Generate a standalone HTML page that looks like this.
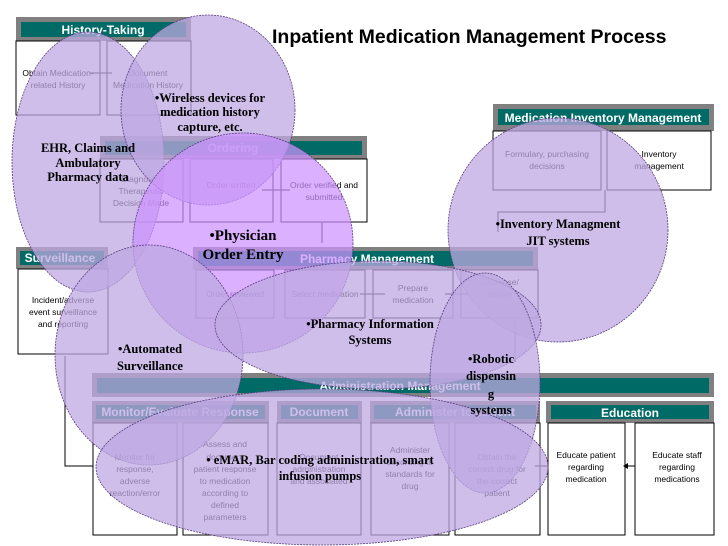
<!DOCTYPE html>
<html><head><meta charset="utf-8"><style>
html,body{margin:0;padding:0;background:#fff;}
svg{display:block;}
.h{font-family:"Liberation Sans",sans-serif;font-weight:bold;fill:#fff;font-size:12px;}
.t{font-family:"Liberation Sans",sans-serif;font-size:8.5px;fill:#000;}
.tb{font-family:"Liberation Sans",sans-serif;font-size:8.5px;fill:#000;}
.l{font-family:"Liberation Serif",serif;font-weight:bold;fill:#000;}
.bx{fill:#fff;stroke:#000;stroke-width:1;}
.el{fill:rgba(190,168,225,0.75);stroke:#5a3d80;stroke-width:0.8;stroke-dasharray:2,1;}
</style></head><body>
<svg width="728" height="546" viewBox="0 0 728 546" xmlns="http://www.w3.org/2000/svg">
<!-- History-Taking -->
<rect x="16" y="17" width="175" height="24" fill="#808080"/><rect x="21" y="22" width="165" height="15" fill="#006b66"/>
<text x="103" y="34" class="h" text-anchor="middle">History-Taking</text>
<rect x="16" y="41" width="84" height="74" class="bx"/><rect x="107" y="41" width="84" height="74" class="bx"/>
<text x="58" y="76" class="t" text-anchor="middle">Obtain Medication-</text><text x="58" y="88" class="t" text-anchor="middle">related History</text>
<text x="148" y="76" class="t" text-anchor="middle">Document</text><text x="148" y="88" class="t" text-anchor="middle">Medication History</text>
<line x1="90" y1="73" x2="112" y2="73" stroke="#000"/>
<!-- Title -->
<text x="272" y="43" font-family="Liberation Sans,sans-serif" font-weight="bold" font-size="19.5" fill="#000">Inpatient Medication Management Process</text>
<!-- Order -->
<rect x="100" y="136" width="267" height="23" fill="#808080"/><rect x="105" y="141" width="257" height="14" fill="#006b66"/>
<text x="233" y="152" class="h" text-anchor="middle">Ordering</text>
<rect x="100" y="159" width="83" height="63" class="bx"/><rect x="190" y="159" width="83" height="63" class="bx"/><rect x="281" y="159" width="86" height="63" class="bx"/>
<text x="141" y="182" class="t" text-anchor="middle">Diagnosis/</text><text x="141" y="194" class="t" text-anchor="middle">Therapeutic</text><text x="141" y="206" class="t" text-anchor="middle">Decision Made</text>
<text x="231" y="188" class="t" text-anchor="middle">Order written</text>
<text x="324" y="188" class="t" text-anchor="middle">Order verified and</text><text x="324" y="200" class="t" text-anchor="middle">submitted</text>
<line x1="262" y1="190" x2="290" y2="190" stroke="#000"/>
<line x1="322" y1="222" x2="322" y2="243" stroke="#000"/>
<!-- Inventory -->
<rect x="493" y="104" width="221" height="27" fill="#808080"/><rect x="498" y="109" width="211" height="16" fill="#006b66"/>
<text x="603" y="122" class="h" text-anchor="middle">Medication Inventory Management</text>
<rect x="493" y="131" width="108" height="59" class="bx"/><rect x="607" y="131" width="104" height="59" class="bx"/>
<text x="547" y="157" class="t" text-anchor="middle">Formulary, purchasing</text><text x="547" y="169" class="t" text-anchor="middle">decisions</text>
<text x="659" y="157" class="tb" text-anchor="middle">Inventory</text><text x="659" y="169" class="tb" text-anchor="middle">management</text>
<polyline points="605,190 605,212 498,212 498,232" fill="none" stroke="#000"/>
<!-- Surveillance -->
<rect x="16" y="247" width="92" height="22" fill="#808080"/><rect x="20" y="251" width="84" height="14" fill="#006b66"/>
<text x="60" y="262" class="h" text-anchor="middle">Surveillance</text>
<rect x="18" y="269" width="90" height="85" class="bx"/>
<text x="63" y="303" class="tb" text-anchor="middle">Incident/adverse</text><text x="63" y="315" class="tb" text-anchor="middle">event surveillance</text><text x="63" y="327" class="tb" text-anchor="middle">and reporting</text>
<!-- Pharmacy -->
<rect x="193" y="247" width="345" height="23" fill="#808080"/><rect x="198" y="251" width="335" height="15" fill="#006b66"/>
<text x="367" y="263" class="h" text-anchor="middle">Pharmacy Management</text>
<rect x="196" y="270" width="78" height="48" class="bx"/><rect x="285" y="270" width="80" height="48" class="bx"/><rect x="373" y="270" width="80" height="48" class="bx"/><rect x="461" y="270" width="77" height="48" class="bx"/>
<text x="235" y="297" class="t" text-anchor="middle">Order reviewed</text><text x="325" y="297" class="t" text-anchor="middle">Select medication</text>
<text x="413" y="291" class="t" text-anchor="middle">Prepare</text><text x="413" y="303" class="t" text-anchor="middle">medication</text>
<text x="500" y="285" class="t" text-anchor="middle">Dispense/</text><text x="500" y="297" class="t" text-anchor="middle">deliver</text>
<line x1="360" y1="294" x2="385" y2="294" stroke="#000"/><line x1="445" y1="294" x2="468" y2="294" stroke="#000"/>
<polyline points="515,318 515,362" fill="none" stroke="#000"/>
<!-- Administration -->
<rect x="92" y="373" width="622" height="24" fill="#808080"/><rect x="97" y="378" width="612" height="15" fill="#006b66"/>
<text x="400" y="390" class="h" text-anchor="middle">Administration Management</text>
<rect x="92" y="401" width="177" height="22" fill="#808080"/><rect x="96" y="405" width="169" height="14" fill="#006b66"/><text x="180" y="416" class="h" text-anchor="middle">Monitor/Evaluate Response</text>
<rect x="277" y="401" width="85" height="22" fill="#808080"/><rect x="281" y="405" width="77" height="14" fill="#006b66"/><text x="319" y="416" class="h" text-anchor="middle">Document</text>
<rect x="370" y="401" width="170" height="22" fill="#808080"/><rect x="374" y="405" width="162" height="14" fill="#006b66"/><text x="455" y="416" class="h" text-anchor="middle">Administer to patient</text>
<rect x="546" y="401" width="168" height="22" fill="#808080"/><rect x="551" y="405" width="158" height="14" fill="#006b66"/><text x="630" y="417" class="h" text-anchor="middle">Education</text>
<rect x="93" y="423" width="84" height="112" class="bx"/><rect x="183" y="423" width="85" height="112" class="bx"/><rect x="277" y="423" width="84" height="112" class="bx"/><rect x="371" y="423" width="78" height="112" class="bx"/><rect x="455" y="423" width="85" height="112" class="bx"/>
<rect x="548" y="423" width="77" height="112" class="bx"/><rect x="635" y="423" width="79" height="112" class="bx"/>
<text x="135" y="460" class="t" text-anchor="middle">Monitor for</text><text x="135" y="472" class="t" text-anchor="middle">response,</text><text x="135" y="484" class="t" text-anchor="middle">adverse</text><text x="135" y="496" class="t" text-anchor="middle">reaction/error</text>
<text x="225" y="447" class="t" text-anchor="middle">Assess and</text><text x="225" y="460" class="t" text-anchor="middle">document</text><text x="225" y="472" class="t" text-anchor="middle">patient response</text><text x="225" y="484" class="t" text-anchor="middle">to medication</text><text x="225" y="496" class="t" text-anchor="middle">according to</text><text x="225" y="508" class="t" text-anchor="middle">defined</text><text x="225" y="520" class="t" text-anchor="middle">parameters</text>
<text x="319" y="460" class="t" text-anchor="middle">Document</text><text x="319" y="472" class="t" text-anchor="middle">administration</text><text x="319" y="484" class="t" text-anchor="middle">and associated</text>
<text x="410" y="453" class="t" text-anchor="middle">Administer</text><text x="410" y="465" class="t" text-anchor="middle">according to</text><text x="410" y="477" class="t" text-anchor="middle">standards for</text><text x="410" y="489" class="t" text-anchor="middle">drug</text>
<text x="497" y="460" class="t" text-anchor="middle">Obtain the</text><text x="497" y="472" class="t" text-anchor="middle">correct drug for</text><text x="497" y="484" class="t" text-anchor="middle">the correct</text><text x="497" y="496" class="t" text-anchor="middle">patient</text>
<text x="586" y="458" class="tb" text-anchor="middle">Educate patient</text><text x="586" y="470" class="tb" text-anchor="middle">regarding</text><text x="586" y="482" class="tb" text-anchor="middle">medication</text>
<text x="677" y="458" class="tb" text-anchor="middle">Educate staff</text><text x="677" y="470" class="tb" text-anchor="middle">regarding</text><text x="677" y="482" class="tb" text-anchor="middle">medications</text>
<line x1="635" y1="466" x2="625" y2="466" stroke="#000"/><polygon points="623,466 628,463 628,469" fill="#000"/>
<line x1="548" y1="466" x2="535" y2="466" stroke="#000"/>
<polyline points="93,466 65,466 65,356" fill="none" stroke="#000"/>
<!-- Ellipses -->
<ellipse cx="88" cy="162" rx="76" ry="130" class="el"/>
<ellipse cx="208" cy="110" rx="87" ry="95" class="el"/>
<ellipse cx="243" cy="243" rx="110" ry="110" fill="rgba(205,145,255,0.72)" stroke="#5a3d80" stroke-width="0.8" stroke-dasharray="2,1"/>
<ellipse cx="558" cy="230" rx="110" ry="112" class="el"/>
<ellipse cx="149" cy="355" rx="94" ry="110" class="el"/>
<ellipse cx="378" cy="325" rx="163" ry="64" class="el"/>
<ellipse cx="485" cy="383" rx="55" ry="110" class="el"/>
<ellipse cx="322" cy="467" rx="226" ry="78" class="el"/>
<!-- Labels -->
<g class="l" font-size="12.5" text-anchor="middle">
<text x="88" y="152">EHR, Claims and</text><text x="88" y="167">Ambulatory</text><text x="88" y="181">Pharmacy data</text>
<text x="210" y="102">•Wireless devices for</text><text x="210" y="116">medication history</text><text x="210" y="131">capture, etc.</text>
<text x="558" y="228">•Inventory Managment</text><text x="558" y="245">JIT systems</text>
<text x="370" y="328">•Pharmacy Information</text><text x="370" y="344">Systems</text>
<text x="150" y="353">•Automated</text><text x="150" y="370">Surveillance</text>
<text x="491" y="363">•Robotic</text><text x="491" y="380">dispensin</text><text x="491" y="398">g</text><text x="491" y="414">systems</text>
<text x="320" y="464">•  eMAR, Bar coding administration, smart</text><text x="320" y="480">infusion pumps</text>
</g>
<g class="l" font-size="15" text-anchor="middle">
<text x="243" y="240">•Physician</text><text x="243" y="259">Order Entry</text>
</g>
</svg>
</body></html>
